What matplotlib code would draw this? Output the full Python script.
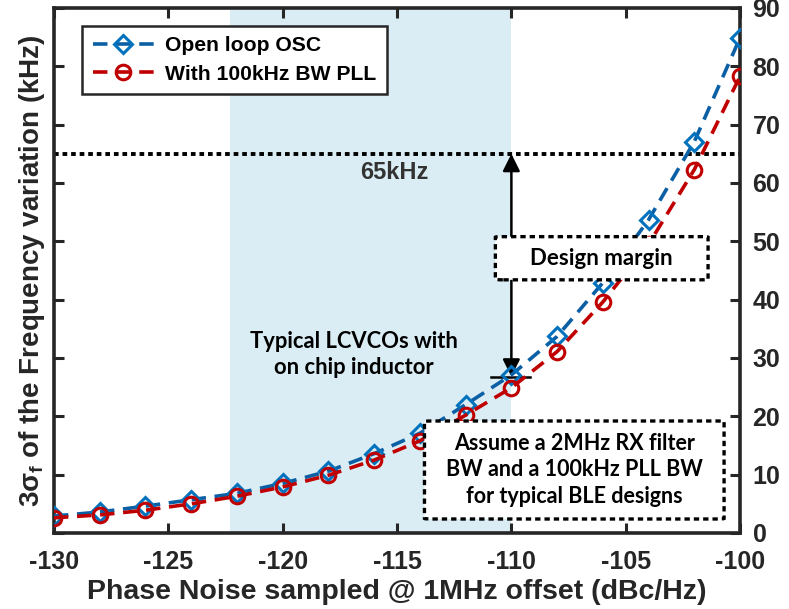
import matplotlib
matplotlib.use("Agg")
import matplotlib.pyplot as plt
from matplotlib.patches import FancyBboxPatch

# Phase noise sweep (dBc/Hz) and resulting 3-sigma frequency variation (kHz)
phase_noise = [-130, -128, -126, -124, -122, -120, -118, -116,
               -114, -112, -110, -108, -106, -104, -102, -100]
open_loop = [2.9, 3.6, 4.6, 5.7, 6.8, 8.5, 10.6, 13.6,
             17.1, 22.0, 27.1, 33.7, 42.9, 53.7, 67.1, 84.9]
with_pll = [2.6, 3.1, 3.9, 5.0, 6.3, 7.9, 9.9, 12.5,
            15.8, 20.2, 24.9, 31.1, 39.6, 49.5, 62.3, 78.3]

limit_khz = 65
lcvco_range = [-122.3, -110]
margin_x = -110
margin_bottom = 26.8

plt.rcParams['font.family'] = ['Liberation Sans', 'DejaVu Sans']
plt.rcParams['font.weight'] = 'bold'
plt.rcParams['axes.unicode_minus'] = False
plt.rcParams['mathtext.fontset'] = 'custom'
plt.rcParams['mathtext.rm'] = 'Liberation Sans:bold'
plt.rcParams['mathtext.it'] = 'Liberation Sans:bold'

dark = '#262626'
blue_line = '#0b5fa5'
blue_mark = '#0072bd'
red = '#c00000'

fig = plt.figure(figsize=(7.89, 6.09), dpi=100)
ax = fig.add_axes([0.0684, 0.1248, 0.8696, 0.8621])

# shaded band for typical on-chip LC VCOs
ax.axvspan(lcvco_range[0], lcvco_range[1], color='#dbedf4', zorder=0, lw=0)

# 65 kHz limit
ax.axhline(limit_khz, color='black', lw=2.8, ls=(0, (1.2, 1.0)), zorder=2)
ax.text(-115.1, 61.8, '65kHz', ha='center', va='center', fontsize=17,
        color='#333333', fontweight='bold')

ax.plot(phase_noise, open_loop, color=blue_line, lw=2.6, ls=(0, (4, 2.4)),
        marker='D', ms=9, mfc='none', mec=blue_mark, mew=2.2,
        label='Open loop OSC', zorder=4)
ax.plot(phase_noise, with_pll, color=red, lw=2.6, ls=(0, (4, 2.4)),
        marker='o', ms=10.5, mfc='none', mec=red, mew=2.2,
        label='With 100kHz BW PLL', zorder=5)

# design margin arrow
ax.annotate('', xy=(margin_x, limit_khz), xytext=(margin_x, margin_bottom),
            arrowprops=dict(arrowstyle='<|-|>', mutation_scale=26, lw=1.8,
                            color='black', shrinkA=0, shrinkB=0), zorder=3)
ax.plot([-110.9, -109.2], [margin_bottom, margin_bottom], color='black', lw=1.8, zorder=3)

box_style = dict(boxstyle='round,pad=0,rounding_size=0.35', fc='white', ec='black',
                 lw=2.4, ls=(0, (1.6, 1.2)), mutation_aspect=5.8 / 23)
ax.add_patch(FancyBboxPatch((-110.7, 43.4), 9.3, 7.4, zorder=6, **box_style))
ax.text(-106.05, 47.1, 'Design margin', ha='center', va='center', fontsize=16,
        family='Lato', fontweight='bold', color='black', zorder=7)

ax.add_patch(FancyBboxPatch((-113.8, 2.4), 13.1, 16.8, zorder=6, **box_style))
ax.text(-107.25, 10.8, 'Assume a 2MHz RX filter\nBW and a 100kHz PLL BW\nfor typical BLE designs',
        ha='center', va='center', fontsize=15.5, family='Lato', fontweight='bold',
        linespacing=1.3, color='black', zorder=7)

ax.text(-116.9, 30.6, 'Typical LCVCOs with\non chip inductor', ha='center', va='center',
        fontsize=15.8, family='Lato', fontweight='bold', linespacing=1.3, color='black')

ax.set_xlim(-130, -100)
ax.set_ylim(0, 90)
ax.set_xticks(range(-130, -99, 5))
ax.set_yticks(range(0, 91, 10))
ax.tick_params(direction='in', length=7, width=2.2, colors=dark, labelsize=18,
               top=True, right=True, left=True, labelleft=False, labelright=True, pad=9)
ax.tick_params(axis='x', pad=12)
for lab in ax.get_xticklabels() + ax.get_yticklabels():
    lab.set_fontweight('bold')
for sp in ax.spines.values():
    sp.set_linewidth(2.6)
    sp.set_color(dark)

ax.set_xlabel('Phase Noise sampled @ 1MHz offset (dBc/Hz)', fontsize=20.5,
              fontweight='bold', color=dark, labelpad=4)
ax.set_ylabel(r'3$\mathrm{\sigma_f}$ of the Frequency variation (kHz)', fontsize=20,
              fontweight='bold', color=dark, labelpad=5)

leg = ax.legend(loc='upper left', bbox_to_anchor=(0.041, 0.966), borderaxespad=0,
                handlelength=2.9, handletextpad=0.55, frameon=True, fancybox=False,
                borderpad=0.5, labelspacing=0.45, framealpha=1,
                prop={'weight': 'bold', 'size': 15.2})
leg.get_frame().set_edgecolor(dark)
leg.get_frame().set_linewidth(1.8)
leg.set_zorder(8)
for t in leg.get_texts():
    t.set_color('black')

fig.savefig('out.png', dpi=100)
